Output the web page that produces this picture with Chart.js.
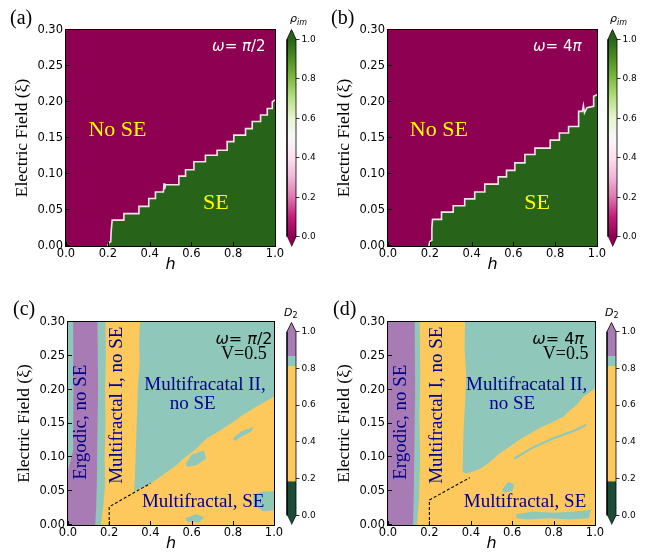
<!DOCTYPE html>
<html><head><meta charset="utf-8">
<script src="https://cdn.jsdelivr.net/npm/chart.js@4.4.0/dist/chart.umd.min.js"></script>
<style>
html,body{margin:0;padding:0;background:#fff;}
#wrap{position:relative;width:654px;height:557px;overflow:hidden;background:#fff;}
canvas{position:absolute;left:0;top:0;}
</style></head><body>
<div id="wrap">
<canvas id="ma" width="654" height="557"></canvas>
<canvas id="mb" width="654" height="557"></canvas>
<canvas id="mc" width="654" height="557"></canvas>
<canvas id="md" width="654" height="557"></canvas>
<canvas id="ka" width="654" height="557"></canvas>
<canvas id="kb" width="654" height="557"></canvas>
<canvas id="kc" width="654" height="557"></canvas>
<canvas id="kd" width="654" height="557"></canvas>
</div>
<script>
// ---------------- data ----------------
const hTicks = [0.0, 0.2, 0.4, 0.6, 0.8, 1.0];
const xiTicks = [0.00, 0.05, 0.10, 0.15, 0.20, 0.25, 0.30];
const cbTicks = [0.0, 0.2, 0.4, 0.6, 0.8, 1.0];

// (a) omega = pi/2 : SE / no-SE boundary (rho_im transition)
const aEdgeH  = [0.200,0.206,0.214,0.216,0.221,0.277,0.277,0.349,0.349,0.396,0.396,0.428,0.428,0.466,0.469,0.472,0.476,0.540,0.540,0.572,0.572,0.612,0.612,0.667,0.667,0.723,0.723,0.771,0.771,0.803,0.803,0.859,0.859,0.891,0.891,0.931,0.931,0.963,0.963,0.987,0.987,1.000];
const aEdgeXi = [0.000,0.005,0.006,0.020,0.036,0.036,0.045,0.045,0.055,0.055,0.066,0.066,0.075,0.075,0.087,0.079,0.085,0.085,0.097,0.097,0.106,0.106,0.117,0.117,0.126,0.126,0.133,0.133,0.145,0.145,0.154,0.154,0.163,0.163,0.173,0.173,0.182,0.182,0.191,0.191,0.200,0.203];

// (b) omega = 4 pi
const bEdgeH  = [0.195,0.200,0.208,0.210,0.213,0.256,0.256,0.312,0.312,0.367,0.367,0.415,0.415,0.463,0.463,0.527,0.527,0.567,0.567,0.607,0.607,0.655,0.655,0.703,0.703,0.776,0.776,0.820,0.820,0.864,0.864,0.912,0.912,0.930,0.935,0.940,0.952,0.984,0.984,1.000];
const bEdgeXi = [0.000,0.006,0.008,0.025,0.037,0.037,0.047,0.047,0.056,0.056,0.0655,0.0655,0.075,0.075,0.086,0.086,0.096,0.096,0.105,0.105,0.1155,0.1155,0.127,0.127,0.136,0.136,0.147,0.147,0.157,0.157,0.166,0.166,0.187,0.187,0.195,0.185,0.192,0.194,0.208,0.210];

// (c) D2 regions, omega = pi/2
const cYellowH  = [0.160,0.172,0.180,0.178,0.182,0.180,0.184,0.182,0.349,0.345,0.348,0.338,0.336,0.330,0.325,0.320,0.360,0.400,0.460,0.520,0.560,0.620,0.670,0.740,0.790,0.850,0.900,0.950,1.000,1.000];
const cYellowXi = [0.000,0.030,0.060,0.100,0.150,0.200,0.250,0.300,0.300,0.270,0.240,0.200,0.170,0.120,0.070,0.050,0.055,0.061,0.074,0.087,0.098,0.112,0.127,0.140,0.150,0.163,0.172,0.181,0.190,0.000];
const cPurpleH  = [0.000,0.000,0.012,0.025,0.026,0.025,0.143,0.146,0.142,0.140,0.136,0.132];
const cPurpleXi = [0.000,0.080,0.095,0.110,0.200,0.300,0.300,0.200,0.120,0.060,0.020,0.000];
const cPatch1H  = [0.900,0.950,1.000,1.000,0.950,0.900];
const cPatch1Xi = [0.045,0.050,0.050,0.022,0.020,0.030];
const cPatch2H  = [0.570,0.620,0.660,0.640,0.580];
const cPatch2Xi = [0.010,0.016,0.012,0.004,0.004];
const cPatch3H  = [0.570,0.600,0.660,0.670,0.620,0.580];
const cPatch3Xi = [0.090,0.104,0.110,0.098,0.088,0.086];
const cPatch4H  = [0.800,0.840,0.900,0.890,0.840,0.810];
const cPatch4Xi = [0.128,0.138,0.145,0.138,0.130,0.124];
const cDashH  = [0.200,0.200,0.400];
const cDashXi = [0.000,0.027,0.0615];

// (d) D2 regions, omega = 4 pi
const dYellowH  = [0.140,0.150,0.155,0.152,0.156,0.153,0.372,0.370,0.378,0.372,0.365,0.362,0.360,0.380,0.411,0.450,0.492,0.540,0.589,0.640,0.685,0.740,0.782,0.847,0.880,0.911,0.944,0.970,1.000,1.000];
const dYellowXi = [0.000,0.040,0.100,0.160,0.220,0.300,0.300,0.260,0.220,0.180,0.140,0.100,0.078,0.076,0.079,0.084,0.093,0.106,0.116,0.127,0.135,0.145,0.150,0.160,0.170,0.177,0.190,0.195,0.202,0.000];
const dPurpleH  = [0.000,0.000,0.129,0.131,0.127,0.124,0.121];
const dPurpleXi = [0.000,0.300,0.300,0.200,0.100,0.040,0.000];
const dStripeH  = [0.610,0.700,0.800,0.900,0.960,0.956,0.895,0.795,0.695,0.610];
const dStripeXi = [0.100,0.116,0.130,0.141,0.150,0.146,0.137,0.126,0.112,0.096];
const dPatch1H  = [0.620,0.700,0.800,0.900,0.980,0.970,0.880,0.780,0.680,0.620];
const dPatch1Xi = [0.016,0.020,0.018,0.020,0.022,0.010,0.008,0.010,0.008,0.010];
const dPatch2H  = [0.550,0.580,0.610,0.600,0.560];
const dPatch2Xi = [0.052,0.064,0.060,0.050,0.048];
const dDashH  = [0.200,0.200,0.395];
const dDashXi = [0.000,0.037,0.070];

// colorbar outline in value space (with triangular extensions)
const cbShapeX = [0.5, 1, 1, 0.5, 0, 0];
const cbShapeV = [-0.05, 0, 1, 1.05, 1, 0];

// ---------------- styles ----------------
const W = 654, H = 557;
const SERIF = "'Liberation Serif','Times New Roman',serif";
const SANS = "'DejaVu Sans',sans-serif";
const MAG = '#8e0152', GRN = '#276419';
const TEAL = '#8fc8ba', YEL = '#fdc95c', PUR = '#a97bb5', DKG = '#1c4c37';
const NAVY = '#00008b';
const PIYG = [[0,'#8e0152'],[0.1,'#c51b7d'],[0.2,'#de77ae'],[0.3,'#f1b6da'],[0.4,'#fde0ef'],[0.5,'#f7f7f7'],[0.6,'#e6f5d0'],[0.7,'#b8e186'],[0.8,'#7fbc41'],[0.9,'#4d9221'],[1,'#276419']];
const D2MAP = [[0,DKG],[0.18,DKG],[0.19,YEL],[0.815,YEL],[0.815,TEAL],[0.87,TEAL],[0.87,PUR],[1,PUR]];

const toPts = (hs, vs) => hs.map((h, i) => ({x: h, y: vs[i]}));
// borderDash keeps Chart.js on its exact (non-"fast") path so every vertex is used
function poly(hs, vs, color, order) {
  return {data: toPts(hs, vs), showLine: true, fill: 'shape', backgroundColor: color,
          borderColor: 'rgba(0,0,0,0)', borderWidth: 0, borderDash: [4, 0], pointRadius: 0, order: order};
}

function fontStr(p, size, family) {
  return (p.italic ? 'italic ' : '') + (p.size || size) + 'px ' + (p.family || family);
}
function drawParts(ctx, it) {
  ctx.save();
  ctx.translate(it.px, it.py);
  if (it.rot) ctx.rotate(it.rot * Math.PI / 180);
  ctx.fillStyle = it.color;
  ctx.textBaseline = it.baseline || 'middle';
  ctx.textAlign = 'left';
  const widths = it.parts.map(p => { ctx.font = fontStr(p, it.size, it.family); return ctx.measureText(p.t).width; });
  const total = widths.reduce((a, b) => a + b, 0);
  let cx = it.align === 'left' ? 0 : -total / 2;
  it.parts.forEach((p, i) => { ctx.font = fontStr(p, it.size, it.family); ctx.fillText(p.t, cx, p.dy || 0); cx += widths[i]; });
  ctx.restore();
}

const bgPlugin = color => ({
  id: 'bgfill',
  beforeDatasetsDraw(chart) {
    const a = chart.chartArea, c = chart.ctx;
    c.save(); c.fillStyle = color; c.fillRect(a.left, a.top, a.right - a.left, a.bottom - a.top); c.restore();
  }
});
const framePlugin = {
  id: 'frame',
  afterDatasetsDraw(chart) {
    const {ctx, chartArea: a, scales: {x, y}} = chart;
    ctx.save();
    ctx.strokeStyle = '#000'; ctx.lineWidth = 1;
    ctx.strokeRect(a.left - 0.5, a.top - 0.5, a.right - a.left + 1, a.bottom - a.top + 1);
    ctx.beginPath();
    x.ticks.forEach(t => { const p = Math.round(x.getPixelForValue(t.value)) + 0.5; ctx.moveTo(p, a.bottom); ctx.lineTo(p, a.bottom - 4); });
    y.ticks.forEach(t => { const p = Math.round(y.getPixelForValue(t.value)) - 0.5; ctx.moveTo(a.left, p); ctx.lineTo(a.left + 4, p); });
    ctx.stroke();
    ctx.restore();
  }
};
const textPlugin = (items, pixItems) => ({
  id: 'texts',
  afterDraw(chart) {
    const {ctx, scales: {x, y}} = chart;
    items.forEach(it => drawParts(ctx, Object.assign({}, it, {px: x.getPixelForValue(it.h), py: y.getPixelForValue(it.xi)})));
    (pixItems || []).forEach(it => drawParts(ctx, it));
  }
});

function mainChart(id, box, bg, datasets, texts, pixTexts) {
  const yW = 60, xH = 30;
  return new Chart(document.getElementById(id), {
    type: 'scatter',
    data: {datasets},
    options: {
      responsive: false, animation: false, events: [],
      layout: {padding: {left: box.l - yW, right: W - box.r, top: box.t, bottom: H - box.b - xH}},
      plugins: {legend: {display: false}, tooltip: {enabled: false}},
      elements: {point: {radius: 0}, line: {tension: 0}},
      scales: {
        x: {type: 'linear', position: 'bottom', min: 0, max: 1,
          afterBuildTicks: s => { s.ticks = hTicks.map(v => ({value: v})); },
          afterFit: s => { s.height = xH; },
          grid: {display: false, drawTicks: false}, border: {display: false},
          ticks: {color: '#000', padding: 1, maxRotation: 0, autoSkip: false, font: {family: SANS, size: 11.5},
                  callback: v => Number(v).toFixed(1)},
          title: {display: true, text: 'h', color: '#000', font: {family: SANS, size: 16, style: 'italic'}, padding: {top: 0, bottom: 2}}},
        y: {type: 'linear', position: 'left', min: 0, max: 0.3,
          afterBuildTicks: s => { s.ticks = xiTicks.map(v => ({value: v})); },
          afterFit: s => { s.width = yW; },
          grid: {display: false, drawTicks: false}, border: {display: false},
          ticks: {color: '#000', padding: 3, autoSkip: false, font: {family: SANS, size: 11.5},
                  callback: v => Number(v).toFixed(2)},
          title: {display: true, text: 'Electric Field (ξ)', color: '#000', font: {family: SERIF, size: 17.5}, padding: {top: 5.5, bottom: 0}}}
      }
    },
    plugins: [bgPlugin(bg), framePlugin, textPlugin(texts, pixTexts)]
  });
}

function colorbar(id, box, stops, titleItems) {
  const aW = 30;
  return new Chart(document.getElementById(id), {
    type: 'scatter',
    data: {datasets: [{
      data: toPts(cbShapeX, cbShapeV), showLine: true, fill: 'shape', pointRadius: 0,
      borderColor: '#000', borderWidth: 0.8, clip: 3,
      backgroundColor: (ctx) => {
        const ch = ctx.chart, ys = ch.scales && ch.scales.y;
        if (!ys || !ch.chartArea) return stops[0][1];
        const g = ch.ctx.createLinearGradient(0, ys.getPixelForValue(0), 0, ys.getPixelForValue(1));
        stops.forEach(s => g.addColorStop(s[0], s[1]));
        return g;
      }
    }]},
    options: {
      responsive: false, animation: false, events: [],
      layout: {padding: {left: box.l, right: W - box.r - aW, top: box.t, bottom: H - box.b}},
      plugins: {legend: {display: false}, tooltip: {enabled: false}},
      scales: {
        x: {type: 'linear', min: 0, max: 1, display: false},
        y: {type: 'linear', position: 'right', min: -0.05, max: 1.05,
          afterBuildTicks: s => { s.ticks = cbTicks.map(v => ({value: v})); },
          afterFit: s => { s.width = aW; },
          grid: {display: true, drawOnChartArea: false, drawTicks: true, tickLength: 3.5, color: '#000', lineWidth: 0.8},
          border: {display: false},
          ticks: {color: '#000', padding: 2, autoSkip: false, font: {family: SANS, size: 9}, callback: v => Number(v).toFixed(1)}}
      }
    },
    plugins: [textPlugin([], titleItems)]
  });
}

// ---------------- build ----------------
const omegaHalfPi = [{t: 'ω', italic: true}, {t: '= '}, {t: 'π', italic: true}, {t: '/2'}];
const omega4Pi = [{t: 'ω', italic: true}, {t: '= 4'}, {t: 'π', italic: true}];

function seDatasets(hs, vs) {
  return [{data: toPts(hs, vs), showLine: true, fill: 'start', backgroundColor: GRN,
           borderColor: '#f2e6ec', borderWidth: 1.6, pointRadius: 0, order: 1}];
}
function panelLabel(t, x, y) {
  return {parts: [{t}], px: x, py: y, size: 20, family: SERIF, color: '#000', align: 'left', baseline: 'alphabetic'};
}

mainChart('ma', {l: 66, r: 275, t: 30, b: 246}, MAG, seDatasets(aEdgeH, aEdgeXi), [
  {h: 0.246, xi: 0.161, parts: [{t: 'No SE'}], size: 22, family: SERIF, color: '#ffff00'},
  {h: 0.717, xi: 0.059, parts: [{t: 'SE'}], size: 22, family: SERIF, color: '#ffff00'},
  {h: 0.827, xi: 0.276, parts: omegaHalfPi, size: 15, family: SANS, color: '#ffffff'}
], [panelLabel('(a)', 10, 24)]);

mainChart('mb', {l: 388, r: 597, t: 30, b: 246}, MAG, seDatasets(bEdgeH, bEdgeXi), [
  {h: 0.243, xi: 0.161, parts: [{t: 'No SE'}], size: 22, family: SERIF, color: '#ffff00'},
  {h: 0.713, xi: 0.059, parts: [{t: 'SE'}], size: 22, family: SERIF, color: '#ffff00'},
  {h: 0.810, xi: 0.276, parts: omega4Pi, size: 15, family: SANS, color: '#ffffff'}
], [panelLabel('(b)', 331, 24)]);

const dash = (hs, vs) => ({data: toPts(hs, vs), showLine: true, fill: false, borderColor: '#000', borderWidth: 1.1,
  borderDash: [3, 2], pointRadius: 0, order: 0});

function d2Texts(omegaParts, c) {
  return [
    {h: c.erg[0], xi: c.erg[1], parts: [{t: 'Ergodic, no SE'}], size: 19, family: SERIF, color: NAVY, rot: -90},
    {h: c.mf1[0], xi: c.mf1[1], parts: [{t: 'Multifractal I, no SE'}], size: 19, family: SERIF, color: NAVY, rot: -90},
    {h: c.mf2[0], xi: c.mf2[1], parts: [{t: 'Multifracatal II,'}], size: 19, family: SERIF, color: NAVY},
    {h: c.nose[0], xi: c.nose[1], parts: [{t: 'no SE'}], size: 19, family: SERIF, color: NAVY},
    {h: c.mfse[0], xi: c.mfse[1], parts: [{t: 'Multifractal, SE'}], size: 19, family: SERIF, color: NAVY},
    {h: c.om[0], xi: c.om[1], parts: omegaParts, size: 16, family: SANS, color: '#000'},
    {h: c.v[0], xi: c.v[1], parts: [{t: 'V=0.5'}], size: 18, family: SERIF, color: '#000'}
  ];
}

mainChart('mc', {l: 68, r: 274, t: 322, b: 525}, TEAL, [
  poly(cYellowH, cYellowXi, YEL, 5),
  poly(cPurpleH, cPurpleXi, PUR, 4),
  poly(cPatch1H, cPatch1Xi, TEAL, 3),
  poly(cPatch2H, cPatch2Xi, TEAL, 3),
  poly(cPatch3H, cPatch3Xi, TEAL, 3),
  poly(cPatch4H, cPatch4Xi, TEAL, 3),
  dash(cDashH, cDashXi)
], d2Texts(omegaHalfPi, {erg: [0.062, 0.152], mf1: [0.238, 0.177], mf2: [0.665, 0.2066], nose: [0.605, 0.1785],
  mfse: [0.656, 0.0335], om: [0.854, 0.273], v: [0.854, 0.252]}), [panelLabel('(c)', 13, 315)]);

mainChart('md', {l: 388, r: 595, t: 322, b: 525}, TEAL, [
  poly(dYellowH, dYellowXi, YEL, 5),
  poly(dPurpleH, dPurpleXi, PUR, 4),
  poly(dStripeH, dStripeXi, TEAL, 3),
  poly(dPatch1H, dPatch1Xi, TEAL, 3),
  poly(dPatch2H, dPatch2Xi, TEAL, 3),
  dash(dDashH, dDashXi)
], d2Texts(omega4Pi, {erg: [0.065, 0.152], mf1: [0.237, 0.177], mf2: [0.670, 0.2066], nose: [0.600, 0.1785],
  mfse: [0.662, 0.0335], om: [0.822, 0.273], v: [0.858, 0.252]}), [panelLabel('(d)', 333, 315)]);

const rhoTitle = x => [{parts: [{t: 'ρ', italic: true}, {t: 'im', italic: true, size: 8, dy: 3}], px: x, py: 22, size: 11,
  family: SANS, color: '#000', align: 'left', baseline: 'alphabetic'}];
const d2Title = x => [{parts: [{t: 'D', italic: true}, {t: '2', size: 8, dy: 2.5}], px: x, py: 315.5, size: 11,
  family: SANS, color: '#000', align: 'left', baseline: 'alphabetic'}];

colorbar('ka', {l: 287, r: 296, t: 29.5, b: 246.5}, PIYG, rhoTitle(290));
colorbar('kb', {l: 608, r: 617, t: 29.5, b: 246.5}, PIYG, rhoTitle(610));
colorbar('kc', {l: 287, r: 296, t: 322.5, b: 524.5}, D2MAP, d2Title(284));
colorbar('kd', {l: 607, r: 616, t: 322.5, b: 524.5}, D2MAP, d2Title(605));
</script>
</body></html>
